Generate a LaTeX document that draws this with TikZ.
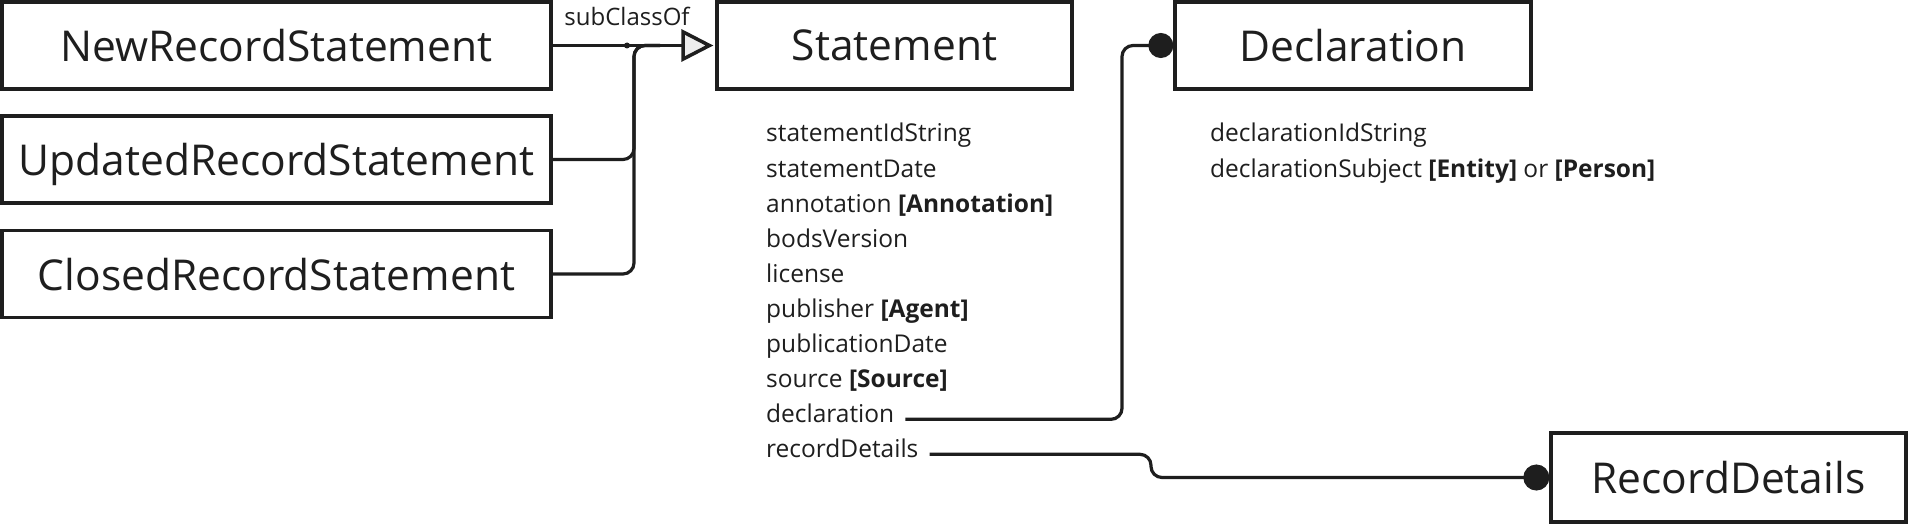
\documentclass[tikz,border=0pt]{standalone}
\usepackage{fontspec}
\setmainfont{Open Sans}
\usepackage{tikz}
\usetikzlibrary{arrows.meta}

\definecolor{ink}{HTML}{1E1E1E}

\tikzset{
  classbox/.style = {draw = ink, line width = 3.3pt, minimum height = 87pt, inner sep = 0pt,
                     text depth = 0pt, text = ink, font = \fontsize{42.5}{50}\selectfont},
  attr/.style     = {anchor = base west, inner sep = 0pt, text = ink,
                     font = \fontsize{24.5}{30}\selectfont},
  link/.style     = {draw = ink, line width = 3.2pt, rounded corners = 11pt},
}

\begin{document}
\begin{tikzpicture}[x = 1pt, y = -1pt]
\useasboundingbox (0, 0) rectangle (1908, 524);

% classes
\node[classbox, minimum width = 549pt] at (276.5, 45.5) (newrec)   {NewRecordStatement};
\node[classbox, minimum width = 549pt] at (276.5, 159.5) (updrec)  {UpdatedRecordStatement};
\node[classbox, minimum width = 549pt] at (276.5, 274) (closedrec) {ClosedRecordStatement};
\node[classbox, minimum width = 355pt] at (894.5, 45.5) (stmt)     {Statement};
\node[classbox, minimum width = 356pt] at (1353, 45.5) (decl)      {Declaration};
\node[classbox, minimum width = 355pt, minimum height = 89pt] at (1728.5, 477.5) (recd) {RecordDetails};

% properties of Statement
\node[attr] at (766, 142) (sidstr)  {statementIdString};
\node[attr] at (766, 177) (sdate)   {statementDate};
\node[attr] at (766, 212) (annot)   {annotation \textbf{[Annotation]}};
\node[attr] at (766, 247) (bods)    {bodsVersion};
\node[attr] at (766, 282) (lic)     {license};
\node[attr] at (766, 317) (pub)     {publisher \textbf{[Agent]}};
\node[attr] at (766, 352) (pubdate) {publicationDate};
\node[attr] at (766, 387) (src)     {source \textbf{[Source]}};
\node[attr] at (766, 422) (declprop) {declaration};
\node[attr] at (766, 457) (recdprop) {recordDetails};

% properties of Declaration
\node[attr] at (1210, 142) (didstr) {declarationIdString};
\node[attr] at (1210, 177) (dsubj)  {declarationSubject \textbf{[Entity]} or \textbf{[Person]}};

% subclass links
\node[anchor = base, inner sep = 0pt, text = ink, font = \fontsize{24}{28}\selectfont] at (627, 26) (subcl) {subClassOf};
\coordinate (bend) at (634, 45.5);
\coordinate (merge) at (660, 45.5);
\draw[link, -{Triangle[length = 32pt, width = 32pt, line width = 3.5pt, fill = ink!8]}, shorten > = 2pt] (newrec.east) -- (stmt.west);
\node[circle, fill = ink, inner sep = 0pt, minimum size = 6pt] at (627, 45.5) (joint) {};
\draw[link] (updrec.east) -| (bend) -- (merge);
\draw[link] (closedrec.east) -| (bend) -- (merge);

% property links
\coordinate (declbend) at (1122, 45.5);
\coordinate (recdbend) at (1151, 477.5);
\draw[link, -{Circle[length = 25pt]}] ([xshift = 11pt]declprop.mid east) -| (declbend) -- (decl.west);
\draw[link, -{Circle[length = 26pt]}] ([xshift = 11pt]recdprop.mid east) -| (recdbend) -- (recd.west);

\end{tikzpicture}
\end{document}
